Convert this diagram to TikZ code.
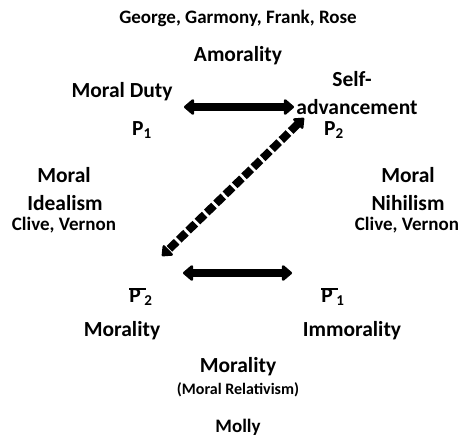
\documentclass[tikz,border=0pt]{standalone}
\usepackage{fontspec}
\setmainfont{Carlito}
\usetikzlibrary{arrows.meta}
\newcommand\pbar[1]{\rlap{\rule[0.62em]{0.75em}{0.07em}}P\,\textsubscript{#1}}
\begin{document}
\begin{tikzpicture}[x=1pt,y=-1pt,
  big/.style={font=\fontsize{21.5}{21.5}\selectfont\bfseries, inner sep=0pt, align=center},
  mid/.style={font=\fontsize{19}{19}\selectfont\bfseries, inner sep=0pt, align=center},
  sml/.style={font=\fontsize{16}{16}\selectfont\bfseries, inner sep=0pt, align=center},
  solidarr/.style={line width=8pt, {Triangle[round,length=11pt,width=18pt]}-{Triangle[round,length=11pt,width=18pt]}},
  dasharr/.style={line width=8pt, dash pattern=on 10pt off 3pt, {Triangle[round,length=10pt,width=16pt]}-{Triangle[round,length=10pt,width=16pt]}}]
\useasboundingbox (0,0) rectangle (462,437);
\node[mid] (george) at (238,18) {George, Garmony, Frank, Rose};
\node[big] (amor) at (238,56) {Amorality};
\node[big] (duty) at (122,92) {Moral Duty};
\node[big] (self) at (352,79) {Self-};
\node[big] (adv) at (357,107) {advancement};
\node[big] (p1) at (142,130) {P\textsubscript{1}};
\node[big] (p2) at (334,130) {P\textsubscript{2}};
\node[big] (ml) at (64,175) {Moral};
\node[big] (ideal) at (65,203) {Idealism};
\node[mid] (cvl) at (64,225) {Clive, Vernon};
\node[big] (mr) at (408,175) {Moral};
\node[big] (nihil) at (408,203) {Nihilism};
\node[mid] (cvr) at (407,225) {Clive, Vernon};
\node[big] (pb2) at (141,297) {\pbar{2}};
\node[big] (pb1) at (333,297) {\pbar{1}};
\node[big] (moral) at (122,331) {Morality};
\node[big] (immoral) at (352,331) {Immorality};
\node[big] (moralm) at (238,367) {Morality};
\node[sml] (rel) at (238,390) {(Moral Relativism)};
\node[mid] (molly) at (238,427) {Molly};
\coordinate (ta) at (184,107);
\coordinate (tb) at (294,107);
\coordinate (ba) at (183,273);
\coordinate (bb) at (292,273);
\coordinate (da) at (304,118);
\coordinate (db) at (162,256);
\draw[solidarr] (ta) -- (tb);
\draw[solidarr] (ba) -- (bb);
\draw[dasharr] (da) -- (db);
\end{tikzpicture}
\end{document}
